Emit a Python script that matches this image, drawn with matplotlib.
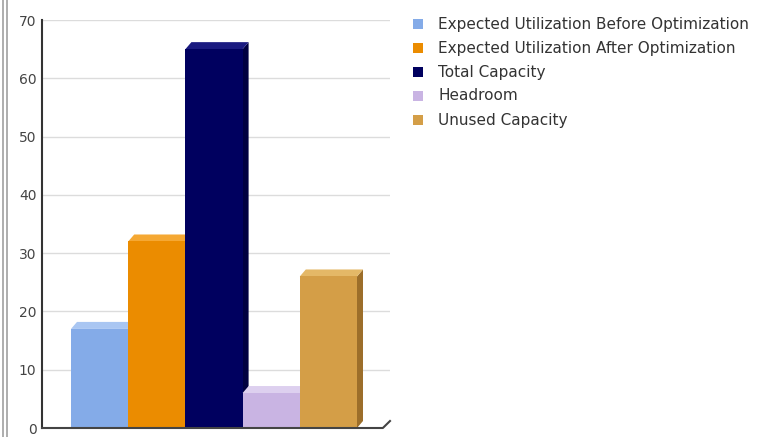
import matplotlib.pyplot as plt
from matplotlib.patches import Polygon, Rectangle
from matplotlib.lines import Line2D

# series shown as adjacent 3D-style bars
labels = [
    "Expected Utilization Before Optimization",
    "Expected Utilization After Optimization",
    "Total Capacity",
    "Headroom",
    "Unused Capacity",
]
values = [17, 32, 65, 6, 26]
front_colors = ["#84abe8", "#eb8c00", "#00005f", "#c9b4e3", "#d49e47"]
top_colors = ["#a9c6f2", "#f5a833", "#1a1a80", "#ddd0ef", "#e4b867"]
side_colors = ["#5f86c4", "#b86c00", "#000040", "#9c88b8", "#9c6e2a"]

W, H = 764, 437
fig = plt.figure(figsize=(W / 100, H / 100), dpi=100)

# axes box in pixel terms: left 42, right 390, top 20, bottom 428
ax = fig.add_axes([42 / W, (H - 428) / H, 348 / W, 408 / H])
xmin, xmax = -1.007, 5.077
ax.set_xlim(xmin, xmax)
ax.set_ylim(0, 70)

# depth of the 3D effect, in data units
dx = 6 / 57.2
dy = 7 / 5.83

for yv in range(10, 71, 10):
    ax.axhline(yv, color="#dcdcdc", lw=1.0, zorder=0)

for i, (v, fc, tc, sc) in enumerate(zip(values, front_colors, top_colors, side_colors)):
    l, r = i - 0.5, i + 0.5
    ax.add_patch(Polygon([(r, 0), (r + dx, dy), (r + dx, v + dy), (r, v)],
                         closed=True, facecolor=sc, edgecolor="none", zorder=2 + i))
    ax.add_patch(Polygon([(l, v), (r, v), (r + dx, v + dy), (l + dx, v + dy)],
                         closed=True, facecolor=tc, edgecolor="none", zorder=2 + i))
    ax.bar(i, v, width=1.0, color=fc, edgecolor="none", zorder=2 + i)

# floor edge with the depth kink at the right end
ax.add_line(Line2D([xmin, xmax - dx - 0.02, xmax], [0, 0, dy],
                   color="#444444", lw=1.5, zorder=10, clip_on=False))

for s in ["top", "right", "bottom"]:
    ax.spines[s].set_visible(False)
ax.spines["left"].set_color("#333333")
ax.spines["left"].set_linewidth(1.5)
ax.set_xticks([])
ax.set_yticks(range(0, 71, 10))
ax.tick_params(axis="y", length=0, pad=4, labelsize=10, labelcolor="#444444")

# legend drawn as swatches plus labels
for k, (lab, fc) in enumerate(zip(labels, front_colors)):
    yc = 24 + 24 * k
    fig.patches.append(Rectangle((413 / W, (H - yc - 5) / H), 10 / W, 10 / H,
                                 transform=fig.transFigure, facecolor=fc,
                                 edgecolor="none"))
    fig.text(438 / W, (H - yc) / H, lab, fontsize=11, color="#333333",
             va="center", ha="left")

# window frame lines at the far left
for xp in (2.5, 6.5):
    fig.add_artist(Line2D([xp / W, xp / W], [0, 1], color="#a0a0a0", lw=1.2,
                          transform=fig.transFigure))

fig.savefig("out.png", dpi=100)
